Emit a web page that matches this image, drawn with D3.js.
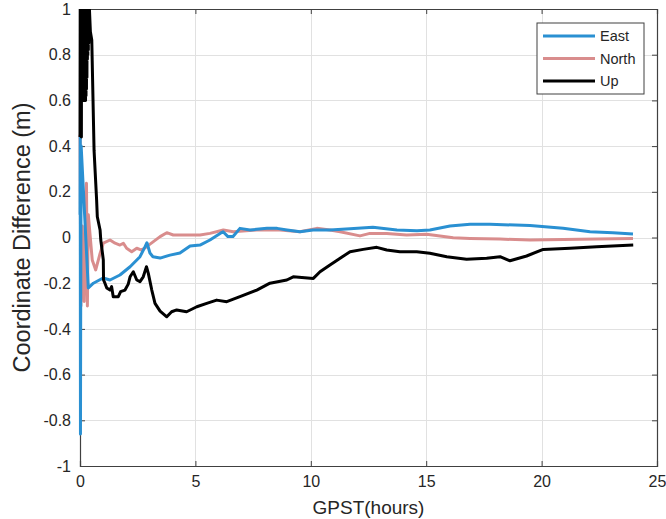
<!DOCTYPE html>
<html>
<head>
<meta charset="utf-8">
<script src="https://cdn.jsdelivr.net/npm/d3@7"></script>
<style>
  html, body { margin: 0; padding: 0; background: #fff; }
  svg { display: block; font-family: "Liberation Sans", Arial, sans-serif; }
</style>
</head>
<body>
<svg id="chart" width="666" height="519"></svg>
<script>
// GPS time (hours) and coordinate differences (m) per component
const eastHours = [0.00, 0.01, 0.02, 0.03, 0.05, 0.20, 0.36, 0.58, 1.00, 1.30, 1.73, 2.17, 2.60, 2.82, 2.90, 3.03, 3.16, 3.47, 3.90, 4.33, 4.77, 5.20, 5.63, 6.07, 6.20, 6.41, 6.63, 6.93, 7.37, 8.10, 8.54, 8.97, 9.53, 10.10, 10.83, 11.70, 12.69, 13.73, 14.60, 15.16, 16.03, 16.90, 17.76, 19.50, 20.93, 22.10, 23.09, 23.96];
const eastValues = [0.10, 0.44, -0.86, -0.30, 0.40, 0.10, -0.221, -0.200, -0.177, -0.186, -0.164, -0.128, -0.084, -0.040, -0.023, -0.068, -0.084, -0.090, -0.077, -0.068, -0.037, -0.033, -0.011, 0.018, 0.025, 0.004, 0.004, 0.040, 0.033, 0.040, 0.040, 0.033, 0.025, 0.033, 0.033, 0.038, 0.045, 0.033, 0.030, 0.033, 0.050, 0.058, 0.058, 0.052, 0.040, 0.025, 0.021, 0.015];

const northHours = [0.00, 0.04, 0.10, 0.18, 0.28, 0.32, 0.36, 0.53, 0.68, 0.87, 1.01, 1.30, 1.52, 1.73, 1.88, 2.02, 2.24, 2.46, 2.67, 2.89, 3.18, 3.47, 3.76, 4.04, 4.62, 5.20, 5.63, 6.21, 6.64, 7.66, 8.67, 9.53, 10.26, 10.83, 11.27, 12.13, 12.56, 13.29, 14.15, 15.02, 16.17, 16.90, 18.20, 19.50, 21.66, 23.96];
const northValues = [0.45, -0.30, 0.05, -0.28, 0.237, -0.30, 0.10, -0.098, -0.142, -0.070, -0.025, -0.011, -0.025, -0.033, -0.025, -0.047, -0.062, -0.047, -0.055, -0.040, -0.018, 0.004, 0.021, 0.011, 0.011, 0.011, 0.018, 0.033, 0.025, 0.033, 0.033, 0.025, 0.040, 0.033, 0.025, 0.007, 0.018, 0.018, 0.011, 0.014, -0.001, -0.004, -0.007, -0.011, -0.008, -0.004];

const upHours = [0.00, 0.01, 0.02, 0.03, 0.04, 0.05, 0.06, 0.07, 0.08, 0.09, 0.10, 0.11, 0.12, 0.13, 0.14, 0.15, 0.16, 0.17, 0.18, 0.19, 0.20, 0.21, 0.22, 0.23, 0.24, 0.25, 0.26, 0.27, 0.28, 0.29, 0.30, 0.31, 0.32, 0.33, 0.34, 0.35, 0.36, 0.37, 0.38, 0.39, 0.40, 0.45, 0.51, 0.61, 0.72, 0.75, 0.87, 0.90, 1.01, 1.02, 1.08, 1.16, 1.30, 1.37, 1.44, 1.66, 1.76, 1.95, 2.09, 2.17, 2.31, 2.46, 2.60, 2.74, 2.88, 2.96, 3.11, 3.25, 3.47, 3.76, 3.97, 4.19, 4.62, 5.06, 5.49, 5.92, 6.36, 6.93, 7.66, 8.23, 8.96, 9.24, 10.11, 10.40, 10.83, 11.27, 11.70, 12.27, 12.86, 13.29, 13.86, 14.59, 15.16, 15.89, 16.75, 17.62, 18.20, 18.63, 19.35, 20.07, 21.23, 22.39, 23.97];
const upValues = [0.44, 1.10, 0.45, 1.12, 0.46, 1.10, 0.44, 1.15, 0.60, 1.10, 0.62, 1.12, 0.60, 1.10, 0.61, 1.12, 0.60, 1.10, 0.62, 1.08, 0.60, 1.10, 0.62, 1.05, 0.60, 1.08, 0.62, 1.05, 0.65, 1.05, 0.70, 1.02, 0.78, 1.04, 0.80, 1.02, 0.82, 1.05, 0.85, 1.03, 1.02, 0.90, 0.864, 0.38, 0.164, 0.091, 0.033, -0.011, -0.098, -0.186, -0.200, -0.221, -0.230, -0.215, -0.259, -0.259, -0.237, -0.230, -0.204, -0.172, -0.150, -0.186, -0.193, -0.172, -0.128, -0.157, -0.230, -0.288, -0.322, -0.347, -0.325, -0.317, -0.325, -0.303, -0.288, -0.274, -0.281, -0.259, -0.230, -0.200, -0.186, -0.172, -0.179, -0.150, -0.120, -0.091, -0.062, -0.052, -0.043, -0.055, -0.062, -0.062, -0.069, -0.084, -0.095, -0.091, -0.084, -0.102, -0.081, -0.052, -0.047, -0.040, -0.033];

const seriesNames = ["East", "North", "Up"];
const seriesColors = ["#2a90d2", "#d98d8d", "#000000"];

const xTicks = [0, 5, 10, 15, 20, 25];
const yTicks = [-1, -0.8, -0.6, -0.4, -0.2, 0, 0.2, 0.4, 0.6, 0.8, 1];

const svg = d3.select("#chart");
const margin = { left: 80, right: 9, top: 9, bottom: 53 };
const W = 666, H = 519;
const innerW = W - margin.left - margin.right;
const innerH = H - margin.top - margin.bottom;

const x = d3.scaleLinear().domain([0, 25]).range([margin.left, margin.left + innerW]);
const y = d3.scaleLinear().domain([-1, 1]).range([margin.top + innerH, margin.top]);

// grid
const grid = svg.append("g").attr("stroke", "#e1e1e1").attr("stroke-width", 1);
xTicks.slice(1, -1).forEach(t => grid.append("line")
  .attr("x1", Math.round(x(t)) + 0.5).attr("x2", Math.round(x(t)) + 0.5)
  .attr("y1", y(-1)).attr("y2", y(1)));
yTicks.slice(1, -1).forEach(t => grid.append("line")
  .attr("y1", Math.round(y(t)) + 0.5).attr("y2", Math.round(y(t)) + 0.5)
  .attr("x1", x(0)).attr("x2", x(25)));

// axes (ticks point inward, box on all four sides)
const axisColor = "#404040";
const tickLen = 5;
const axBottom = svg.append("g").attr("transform", `translate(0,${y(-1)})`)
  .call(d3.axisBottom(x).tickValues(xTicks).tickSize(-tickLen).tickPadding(10).tickFormat(d3.format("d")));
const axTop = svg.append("g").attr("transform", `translate(0,${y(1)})`)
  .call(d3.axisTop(x).tickValues(xTicks).tickSize(-tickLen).tickFormat(""));
const axLeft = svg.append("g").attr("transform", `translate(${x(0)},0)`)
  .call(d3.axisLeft(y).tickValues(yTicks).tickSize(-tickLen).tickPadding(9).tickFormat(d => String(+d.toFixed(1))));
const axRight = svg.append("g").attr("transform", `translate(${x(25)},0)`)
  .call(d3.axisRight(y).tickValues(yTicks).tickSize(-tickLen).tickFormat(""));

[axBottom, axTop, axLeft, axRight].forEach(g => {
  g.select(".domain").attr("stroke", axisColor).attr("stroke-width", 1.2);
  g.selectAll(".tick line").attr("stroke", axisColor);
  g.selectAll(".tick text").attr("fill", "#262626").attr("font-size", 16)
    .attr("font-family", "Liberation Sans, Arial, sans-serif");
});

// clip region for the data (vertical limits only, strokes may overlap the side axes)
svg.append("clipPath").attr("id", "plotclip")
  .append("rect").attr("x", x(0) - 4).attr("y", y(1)).attr("width", innerW + 8).attr("height", innerH);

const line = d3.line().x(d => x(d[0])).y(d => y(d[1]));
const seriesData = [
  d3.zip(eastHours, eastValues),
  d3.zip(northHours, northValues),
  d3.zip(upHours, upValues)
];
const plot = svg.append("g").attr("clip-path", "url(#plotclip)");
// draw order: North under East, Up on top
[1, 0, 2].forEach(i => {
  plot.append("path")
    .datum(seriesData[i])
    .attr("fill", "none")
    .attr("stroke", seriesColors[i])
    .attr("stroke-width", 3)
    .attr("stroke-linejoin", "round")
    .attr("d", line);
});

// axis titles
svg.append("text")
  .attr("x", (x(0) + x(25)) / 2).attr("y", 514)
  .attr("text-anchor", "middle").attr("font-size", 19).attr("fill", "#262626")
  .text("GPST(hours)");
svg.append("text")
  .attr("transform", `translate(30,${(y(1) + y(-1)) / 2}) rotate(-90)`)
  .attr("text-anchor", "middle").attr("font-size", 23.5).attr("fill", "#262626")
  .text("Coordinate Difference (m)");

// legend
const lg = svg.append("g").attr("transform", "translate(537,23)");
lg.append("rect").attr("width", 107).attr("height", 71)
  .attr("fill", "#fff").attr("stroke", axisColor).attr("stroke-width", 1);
seriesNames.forEach((name, i) => {
  const cy = 13 + i * 22.5;
  lg.append("line").attr("x1", 6).attr("x2", 58).attr("y1", cy).attr("y2", cy)
    .attr("stroke", seriesColors[i]).attr("stroke-width", 3);
  lg.append("text").attr("x", 63).attr("y", cy + 5).attr("font-size", 14.5)
    .attr("fill", "#262626").text(name);
});
</script>
</body>
</html>
